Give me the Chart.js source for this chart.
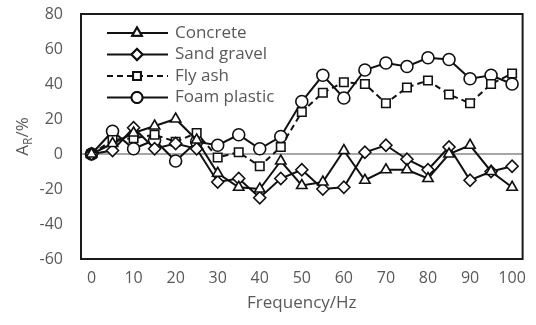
<!DOCTYPE html>
<html>
<head>
<meta charset="utf-8">
<script src="https://cdn.jsdelivr.net/npm/chart.js@4/dist/chart.umd.min.js"></script>
<style>
    html, body { margin: 0; padding: 0; background: #fff; }
    #wrap { width: 536px; height: 325px; }
</style>
</head>
<body>
<div id="wrap"><canvas id="chart" width="536" height="325"></canvas></div>
<script>
// Data
const frequencies = [0, 5, 10, 15, 20, 25, 30, 35, 40, 45, 50, 55, 60, 65, 70, 75, 80, 85, 90, 95, 100];
const concrete    = [0, 6, 12, 16, 20, 8, -11, -19, -20, -4, -18, -16, 2, -15, -9, -9, -14, 0, 5, -10, -19];
const sandGravel  = [0, 2, 15, 3, 6, 3, -16, -14, -25, -14, -9, -20, -19, 1, 5, -3, -9, 4, -15, -10, -7];
const flyAsh      = [0, 8, 9, 11, 7, 12, -2, 1, -7, 4, 24, 35, 41, 40, 29, 38, 42, 34, 29, 40, 46];
const foamPlastic = [0, 13, 3, 8, -4, 7, 5, 11, 3, 10, 30, 45, 32, 48, 52, 50, 55, 54, 43, 45, 40];
const yTicks = [-60, -40, -20, 0, 20, 40, 60, 80];

const FONT = "'Open Sans', sans-serif";
const GREY = '#595959';

function series(label, data, pointStyle, dash) {
    return {
        label: label,
        data: data,
        borderColor: '#111',
        borderWidth: 2,
        borderDash: dash || [],
        backgroundColor: '#fff',
        pointStyle: pointStyle,
        pointRadius: 6,
        pointBorderWidth: 1.6,
        pointBorderColor: '#111',
        pointBackgroundColor: '#fff',
        tension: 0
    };
}

// Box around the plot area
const frameBox = {
    id: 'frameBox',
    beforeDatasetsDraw(chart) {
        const { ctx, chartArea: a } = chart;
        ctx.save();
        ctx.strokeStyle = '#1a1a1a';
        ctx.lineWidth = 2;
        ctx.strokeRect(a.left, a.top, a.right - a.left, a.bottom - a.top);
        ctx.restore();
    }
};

// Legend inside the plot: line sample + marker + name
const insideLegend = {
    id: 'insideLegend',
    afterDraw(chart) {
        const ctx = chart.ctx;
        ctx.save();
        ctx.font = '17px ' + FONT;
        ctx.textBaseline = 'middle';
        chart.data.datasets.forEach((ds, i) => {
            const y = chart.chartArea.top + 19 + i * 21.5;
            ctx.strokeStyle = '#111';
            ctx.lineWidth = 2;
            ctx.setLineDash(ds.borderDash);
            ctx.beginPath();
            ctx.moveTo(107, y);
            ctx.lineTo(168, y);
            ctx.stroke();
            ctx.setLineDash([]);
            Chart.helpers.drawPoint(ctx, {
                pointStyle: ds.pointStyle, radius: 5.5, borderWidth: 1.6, rotation: 0
            }, 137, y);
            ctx.fillStyle = '#fff';
            ctx.fill();
            ctx.stroke();
            ctx.fillStyle = GREY;
            ctx.fillText(ds.label, 175, y);
        });
        ctx.restore();
    }
};

// Y axis title with subscript: A_R/%
const yTitle = {
    id: 'yTitle',
    afterDraw(chart) {
        const ctx = chart.ctx;
        const a = chart.chartArea;
        ctx.save();
        ctx.translate(22, (a.top + a.bottom) / 2);
        ctx.rotate(-Math.PI / 2);
        ctx.fillStyle = GREY;
        ctx.textBaseline = 'alphabetic';
        const big = '17px ' + FONT, small = '12px ' + FONT;
        ctx.font = big;
        const wA = ctx.measureText('A').width, wRest = ctx.measureText('/%').width;
        ctx.font = small;
        const wR = ctx.measureText('R').width;
        let x = -(wA + wR + wRest) / 2;
        ctx.font = big;
        ctx.fillText('A', x, 6);
        x += wA;
        ctx.font = small;
        ctx.fillText('R', x, 10);
        x += wR;
        ctx.font = big;
        ctx.fillText('/%', x, 6);
        ctx.restore();
    }
};

new Chart(document.getElementById('chart').getContext('2d'), {
    type: 'line',
    data: {
        labels: frequencies,
        datasets: [
            series('Concrete', concrete, 'triangle'),
            series('Sand gravel', sandGravel, 'rectRot'),
            series('Fly ash', flyAsh, 'rect', [6, 4]),
            series('Foam plastic', foamPlastic, 'circle')
        ]
    },
    options: {
        responsive: false,
        animation: false,
        layout: { padding: { top: 14, right: 7, left: 0, bottom: 0 } },
        plugins: { legend: { display: false }, tooltip: { enabled: false } },
        scales: {
            x: {
                offset: true,
                afterFit(scale) { scale.height = 66; },
                grid: { display: false, drawTicks: false },
                border: { display: false },
                ticks: {
                    autoSkip: false,
                    maxRotation: 0,
                    padding: 10,
                    color: GREY,
                    font: { family: FONT, size: 16 },
                    callback(v, i) { return frequencies[i] % 10 === 0 ? String(frequencies[i]) : null; }
                },
                title: {
                    display: true,
                    text: 'Frequency/Hz',
                    color: GREY,
                    font: { family: FONT, size: 17 },
                    padding: { top: 0, bottom: 12 }
                }
            },
            y: {
                min: -60,
                max: 80,
                afterFit(scale) {
                    scale.width = 81;
                    scale.paddingTop = 0;
                    scale.paddingBottom = 0;
                },
                afterBuildTicks(scale) { scale.ticks = yTicks.map(v => ({ value: v })); },
                grid: {
                    drawTicks: false,
                    lineWidth: 2,
                    color: ctx => ctx.tick && ctx.tick.value === 0 ? '#a6a6a6' : 'rgba(0,0,0,0)'
                },
                border: { display: false },
                ticks: {
                    padding: 18,
                    color: GREY,
                    font: { family: FONT, size: 16 }
                }
            }
        }
    },
    plugins: [frameBox, insideLegend, yTitle]
});
</script>
</body>
</html>
